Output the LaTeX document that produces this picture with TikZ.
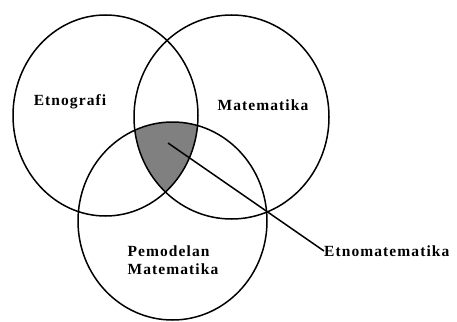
\documentclass[tikz,border=0pt]{standalone}
\usepackage{fontspec}
\setmainfont{Liberation Serif}
\newfontfamily\vennfont[LetterSpace=7]{Liberation Serif}
\usetikzlibrary{positioning}
\begin{document}
\begin{tikzpicture}[x=1pt,y=-1pt,
  rim/.style={line width=1.5pt},
  lab/.style={font=\vennfont\fontsize{15.5}{18}\selectfont\bfseries,inner sep=0pt,align=left}]
  \useasboundingbox (0,0) rectangle (457,321);
  % shaded common part
  \begin{scope}
    \clip (105.5,115.5) ellipse [x radius=92.5,y radius=100.5];
    \clip (231.5,117) ellipse [x radius=97.5,y radius=102];
    \fill[black!50] (172.5,221) ellipse [x radius=94.5,y radius=99];
  \end{scope}
  % the three sets
  \draw[rim] (105.5,115.5) ellipse [x radius=92.5,y radius=100.5];
  \draw[rim] (231.5,117) ellipse [x radius=97.5,y radius=102];
  \draw[rim] (172.5,221) ellipse [x radius=94.5,y radius=99];
  % labels
  \node[lab] (etnografi) at (70,102) {Etnografi};
  \node[lab] (matematika) at (263,105) {Matematika};
  \node[lab] (pemodelan) at (173,260) {Pemodelan\\Matematika};
  \node[lab,anchor=west] (etno) at (324,251) {Etnomatematika};
  \coordinate (core) at (168,143);
  \draw[rim] (core) -- (etno.west);
\end{tikzpicture}
\end{document}
